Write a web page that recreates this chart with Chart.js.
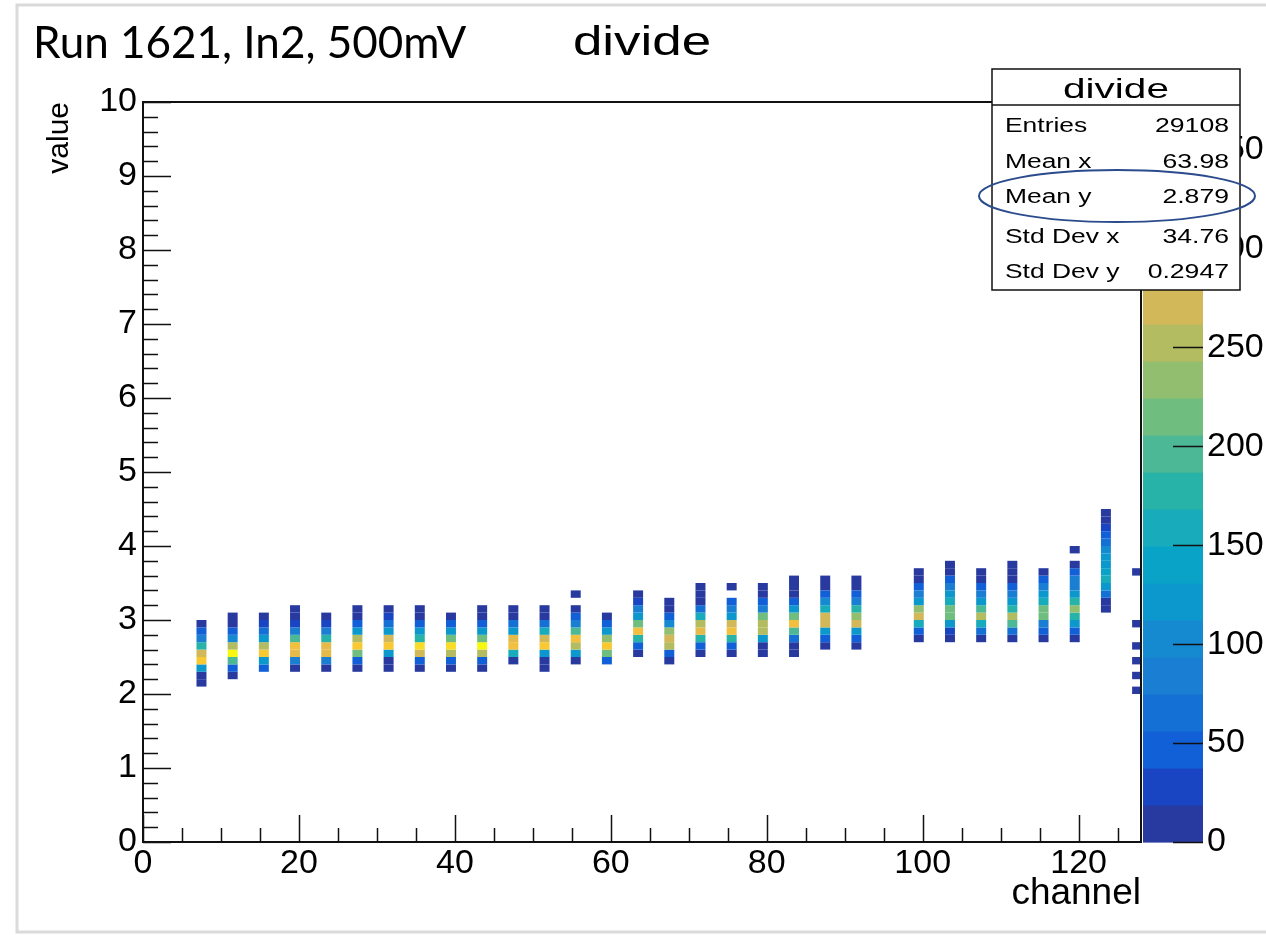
<!DOCTYPE html>
<html>
<head>
<meta charset="utf-8">
<script src="https://cdn.jsdelivr.net/npm/chart.js@4.4.1/dist/chart.umd.min.js"></script>
<style>
  body { margin: 0; background: #fff; }
  #wrap { position: absolute; left: 0; top: 0; width: 1266px; height: 935px; }
</style>
</head>
<body>
<div id="wrap"><canvas id="myChart" width="1266" height="935"></canvas></div>
<script>
// channels with entries (low edge of a 1-channel wide bin)
const channels = [7, 11, 15, 19, 23, 27, 31, 35, 39, 43, 47, 51, 55, 59, 63, 67, 71, 75, 79, 83, 87, 91, 99, 103, 107, 111, 115, 119, 123, 127];
// lowest filled value bin of each channel (bins are 0.1 high)
const yStart = [2.1, 2.2, 2.3, 2.3, 2.3, 2.3, 2.3, 2.3, 2.3, 2.3, 2.4, 2.3, 2.4, 2.4, 2.5, 2.4, 2.5, 2.5, 2.5, 2.5, 2.6, 2.6, 2.7, 2.7, 2.7, 2.7, 2.7, 2.7, 3.1, 2.0];
// bin contents going up from yStart
const counts = [
  [12, 15, 121, 327, 271, 177, 84, 46, 10],
  [14, 46, 196, 364, 252, 103, 46, 16, 6],
  [40, 121, 327, 252, 121, 65, 28, 8],
  [10, 84, 290, 308, 196, 84, 28, 12, 5],
  [12, 84, 290, 290, 177, 84, 28, 9],
  [14, 46, 215, 327, 252, 121, 46, 12, 4],
  [8, 15, 121, 327, 271, 121, 65, 30, 10],
  [12, 46, 271, 346, 177, 121, 46, 14, 5],
  [15, 46, 252, 346, 215, 121, 46, 10],
  [12, 46, 252, 364, 215, 121, 46, 14, 4],
  [16, 159, 308, 290, 121, 65, 14, 5],
  [6, 16, 121, 327, 271, 159, 65, 14, 4],
  [14, 121, 252, 308, 196, 84, 46, 12, 0, 3],
  [46, 215, 327, 233, 121, 46, 12],
  [10, 46, 177, 308, 215, 121, 84, 28, 8],
  [14, 46, 252, 271, 233, 103, 46, 12, 5],
  [15, 46, 177, 290, 252, 159, 65, 14, 8, 4],
  [14, 46, 177, 308, 271, 121, 84, 40, 0, 3],
  [8, 16, 121, 252, 252, 215, 84, 46, 14, 5],
  [6, 18, 65, 196, 308, 215, 121, 46, 15, 8, 3],
  [12, 46, 121, 271, 271, 159, 103, 46, 14, 5],
  [12, 46, 121, 271, 233, 177, 84, 46, 14, 5],
  [14, 46, 159, 271, 233, 121, 84, 46, 15, 5],
  [12, 28, 121, 215, 215, 159, 121, 84, 46, 16, 6],
  [14, 65, 159, 252, 196, 121, 84, 46, 16, 6],
  [14, 65, 196, 252, 177, 121, 84, 46, 16, 8, 4],
  [12, 46, 84, 215, 215, 159, 121, 84, 46, 12],
  [10, 46, 121, 177, 233, 177, 121, 84, 84, 46, 12, 0, 3],
  [12, 16, 65, 121, 159, 140, 121, 121, 103, 65, 40, 28, 14, 6],
  [3, 0, 2, 0, 3, 0, 2, 0, 0, 3, 0, 0, 0, 0, 0, 0, 2]
];
const binH = 0.1;

const xTicks = [0, 20, 40, 60, 80, 100, 120];
const yTicks = [0, 1, 2, 3, 4, 5, 6, 7, 8, 9, 10];
const zTicks = [0, 50, 100, 150, 200, 250, 300, 350];
const zMax = 374;

const statLabels = ['Entries', 'Mean x', 'Mean y', 'Std Dev x', 'Std Dev y'];
const statValues = ['29108', '63.98', '2.879', '34.76', '0.2947'];

// colour levels of the z palette, low to high
const palette = ['#283a9f', '#1a45c2', '#1160d8', '#1570d5', '#1a7ed2', '#168ad0', '#0c98cd', '#0aa3c8',
  '#18abbb', '#28b3a8', '#4cb896', '#70bd80', '#92be70', '#b3bc60', '#d2b858', '#e4ba4a',
  '#f2bf3e', '#f9c934', '#f9dc28', '#f8f70f'];

function colorFor(v) {
  const k = Math.min(palette.length - 1, Math.floor(v / zMax * palette.length));
  return palette[k];
}

// one floating bar per filled cell
const cells = [];
channels.forEach((ch, i) => {
  counts[i].forEach((c, j) => {
    if (c <= 0) return;
    const lo = Math.round((yStart[i] + j * binH) * 10) / 10;
    cells.push({ x: ch + 0.5, y: [lo, Math.round((lo + binH) * 10) / 10], v: c });
  });
});

const font = '"Liberation Sans", Arial, sans-serif';

function stretchText(c, txt, x, y, size, sx, align) {
  c.save();
  c.translate(x, y);
  c.scale(sx, 1);
  c.font = size + 'px ' + font;
  c.textAlign = align;
  c.textBaseline = 'alphabetic';
  c.fillText(txt, 0, 0);
  c.restore();
}

const rootDecor = {
  id: 'rootDecor',
  beforeDraw(chart) {
    const c = chart.ctx;
    c.save();
    c.fillStyle = '#fff';
    c.fillRect(0, 0, chart.width, chart.height);
    c.strokeStyle = '#dadada';
    c.lineWidth = 3;
    c.strokeRect(17, 5, chart.width, 927);
    c.restore();
  },
  afterDraw(chart) {
    const c = chart.ctx;
    const a = chart.chartArea;
    const xs = chart.scales.x, ys = chart.scales.y, zs = chart.scales.z;
    c.save();

    // palette
    const pl = a.right + 2, pw = 60;
    const n = palette.length;
    for (let k = 0; k < n; k++) {
      const y0 = zs.getPixelForValue(k * zMax / n);
      const y1 = zs.getPixelForValue((k + 1) * zMax / n);
      c.fillStyle = palette[k];
      c.fillRect(pl, y1, pw, y0 - y1 + 0.6);
    }

    // frame
    c.strokeStyle = '#111';
    c.lineWidth = 2;
    c.strokeRect(a.left, a.top, a.right - a.left, a.bottom - a.top);

    // ticks inside the frame
    c.lineWidth = 1.5;
    c.beginPath();
    for (let k = 0; k <= 50; k++) {
      const y = Math.round(ys.getPixelForValue(k * 0.2)) + 0.5;
      const len = k % 5 === 0 ? 28 : 15;
      c.moveTo(a.left, y); c.lineTo(a.left + len, y);
    }
    for (let v = 0; v <= 128; v += 5) {
      const x = Math.round(xs.getPixelForValue(v)) + 0.5;
      const len = v % 20 === 0 ? 27 : 14;
      c.moveTo(x, a.bottom); c.lineTo(x, a.bottom - len);
    }
    zTicks.forEach(v => {
      const y = Math.round(zs.getPixelForValue(v)) + 0.5;
      c.moveTo(pl + pw - 30, y); c.lineTo(pl + pw, y);
    });
    c.stroke();

    // page label and histogram title
    c.fillStyle = '#000';
    c.font = '44px Lato, "Open Sans", sans-serif';
    c.textAlign = 'left';
    c.textBaseline = 'alphabetic';
    c.fillText('Run 1621, In2, 500mV', 33, 58);
    stretchText(c, 'divide', 642, 55, 41, 1.29, 'center');

    // stats box
    const bx = 992, by = 69, bw = 248, bh = 221;
    c.fillStyle = '#fff';
    c.fillRect(bx, by, bw, bh);
    c.strokeStyle = '#111';
    c.lineWidth = 1.5;
    c.strokeRect(bx, by, bw, bh);
    c.beginPath();
    c.moveTo(bx, 105); c.lineTo(bx + bw, 105);
    c.stroke();
    c.fillStyle = '#000';
    stretchText(c, 'divide', bx + bw / 2, 98, 27, 1.5, 'center');
    const rowBase = [132, 168, 203, 243, 278];
    statLabels.forEach((s, i) => {
      stretchText(c, s, 1005, rowBase[i], 20, 1.32, 'left');
      stretchText(c, statValues[i], 1229, rowBase[i], 20, 1.33, 'right');
    });

    // ellipse around Mean y
    c.strokeStyle = '#2b4c8c';
    c.lineWidth = 2;
    c.beginPath();
    c.ellipse(1117, 196, 138, 26, 0, 0, Math.PI * 2);
    c.stroke();
    c.restore();
  }
};

const ctx = document.getElementById('myChart');

new Chart(ctx, {
  type: 'bar',
  data: {
    datasets: [{
      label: 'divide',
      data: cells,
      backgroundColor: (c) => c.raw ? colorFor(c.raw.v) : palette[0],
      borderWidth: 0,
      categoryPercentage: 1,
      barPercentage: 0.32
    }]
  },
  options: {
    responsive: false,
    animation: false,
    layout: { padding: { left: 0, top: 102, right: 0, bottom: 0 } },
    plugins: { legend: { display: false }, tooltip: { enabled: false }, title: { display: false } },
    scales: {
      x: {
        type: 'linear',
        min: 0, max: 128,
        offset: false,
        afterBuildTicks: s => { s.ticks = xTicks.map(v => ({ value: v })); },
        afterFit: s => { s.height = 93; },
        grid: { display: false, drawTicks: false, tickLength: 0, offset: false },
        border: { display: false },
        ticks: { color: '#000', font: { family: font, size: 34 }, padding: 1, maxRotation: 0, autoSkip: false },
        title: { display: true, text: 'channel', align: 'end', color: '#000', font: { family: font, size: 37 }, padding: 19 }
      },
      y: {
        type: 'linear',
        min: 0, max: 10,
        afterBuildTicks: s => { s.ticks = yTicks.map(v => ({ value: v })); },
        afterFit: s => { s.width = 143; },
        grid: { display: false, drawTicks: false, tickLength: 0 },
        border: { display: false },
        ticks: { color: '#000', font: { family: font, size: 34 }, padding: 6, autoSkip: false },
        title: { display: true, text: 'value', align: 'end', color: '#000', font: { family: font, size: 30 }, padding: 42 }
      },
      z: {
        type: 'linear',
        axis: 'y',
        position: 'right',
        min: 0, max: zMax,
        afterBuildTicks: s => { s.ticks = zTicks.map(v => ({ value: v })); },
        afterFit: s => { s.width = 125; },
        grid: { display: false, drawTicks: false, tickLength: 0 },
        border: { display: false },
        ticks: { color: '#000', font: { family: font, size: 34 }, padding: 66, autoSkip: false }
      }
    }
  },
  plugins: [rootDecor]
});
</script>
</body>
</html>
